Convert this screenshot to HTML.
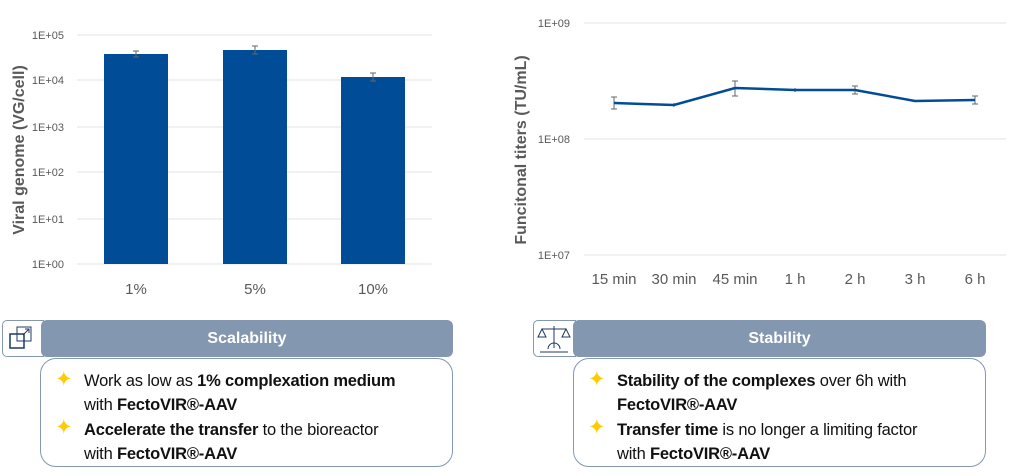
<!DOCTYPE html>
<html><head><meta charset="utf-8"><style>
body{margin:0;width:1024px;height:476px;background:#fff;position:relative;overflow:hidden;font-family:"Liberation Sans",sans-serif}
.a{position:absolute}
.hdr{background:#8497b0;color:#fff;font-weight:bold;font-size:16px;text-align:center;line-height:37px;border-radius:6px}
.ico{border:1px solid #8497b0;border-radius:5px 0 0 5px;background:#fff}
.body{border:1.5px solid #8497b0;border-radius:16px;background:#fff}
.t{font-size:16.5px;color:#111;white-space:nowrap;letter-spacing:-0.2px}
.s{color:#ffcc00;font-size:21px}
</style></head><body>
<svg class="a" style="left:0;top:0" width="1024" height="310" font-family="Liberation Sans, sans-serif">
<g stroke="#e3e3e3" stroke-width="1">
<line x1="77" x2="432" y1="35" y2="35"/><line x1="77" x2="432" y1="80" y2="80"/><line x1="77" x2="432" y1="127" y2="127"/><line x1="77" x2="432" y1="172" y2="172"/><line x1="77" x2="432" y1="219" y2="219"/><line x1="77" x2="432" y1="264" y2="264"/>
<line x1="584" x2="1006" y1="23" y2="23"/><line x1="584" x2="1006" y1="139" y2="139"/><line x1="584" x2="1006" y1="255" y2="255"/>
</g>
<g fill="#595959" font-size="11" text-anchor="end">
<text x="64" y="39">1E+05</text><text x="64" y="84">1E+04</text><text x="64" y="131">1E+03</text><text x="64" y="176">1E+02</text><text x="64" y="223">1E+01</text><text x="64" y="268">1E+00</text>
<text x="570" y="27">1E+09</text><text x="570" y="143">1E+08</text><text x="570" y="259">1E+07</text>
</g>
<g fill="#004c97">
<rect x="104" y="54" width="64" height="210"/><rect x="223" y="50" width="64" height="214"/><rect x="341" y="77" width="64" height="187"/>
</g>
<g stroke="#666" stroke-width="1">
<path d="M136 51v6M133 51h6M133 57h6M255 46v8M252 46h6M252 54h6M373 73v8M370 73h6M370 81h6"/>
<path d="M614 97v12M611 97h6M611 109h6M674 103v4M735 81v15M732 81h6M732 96h6M795 88v4M855 86v8M852 86h6M852 94h6M975 96v8M972 96h6M972 104h6"/>
</g>
<polyline fill="none" stroke="#004c97" stroke-width="2.5" points="614,103 674,105 735,88 795,90 855,90 915,101 975,100"/>
<g fill="#595959" font-size="15" text-anchor="middle">
<text x="136" y="294">1%</text><text x="255" y="294">5%</text><text x="373" y="294">10%</text>
<text x="614" y="284">15 min</text><text x="674" y="284">30 min</text><text x="735" y="284">45 min</text><text x="795" y="284">1 h</text><text x="855" y="284">2 h</text><text x="915" y="284">3 h</text><text x="975" y="284">6 h</text>
</g>
<text transform="translate(24,150) rotate(-90)" text-anchor="middle" fill="#595959" font-size="16" font-weight="bold">Viral genome (VG/cell)</text>
<text transform="translate(526,150) rotate(-90)" text-anchor="middle" fill="#595959" font-size="16" font-weight="bold">Funcitonal titers (TU/mL)</text>
</svg>

<div class="a ico" style="left:2px;top:320px;width:40px;height:35px"><svg width="40" height="35"><rect x="7" y="13" width="14" height="14" fill="none" stroke="#1f3864" stroke-width="1.5"/><rect x="14" y="6" width="14" height="14" fill="none" stroke="#1f3864" stroke-width="1"/><path d="M20 14l6-6M22 8h4v4" stroke="#1f3864" fill="none"/></svg></div>
<div class="a hdr" style="left:41px;top:320px;width:412px;height:37px">Scalability</div>
<div class="a body" style="left:40px;top:358px;width:411px;height:107px"></div>
<div class="a t" style="left:55px;top:368px;line-height:24px"><span class="s">✦</span></div>
<div class="a t" style="left:55px;top:416px;line-height:24px"><span class="s">✦</span></div>
<div class="a t" style="left:84px;top:369px;line-height:24.3px">Work as low as <b>1% complexation medium</b><br>with <b>FectoVIR®-AAV</b><br><b>Accelerate the transfer</b> to the bioreactor<br>with <b>FectoVIR®-AAV</b></div>

<div class="a ico" style="left:533px;top:320px;width:41px;height:35px"><svg width="40" height="35"><path d="M8 8h24M20 5v22M8 8l-4 8h8zM32 8l-4 8h8z" stroke="#1f3864" fill="none"/><path d="M14 28a6 6 0 0 1 12 0M6 31h28" stroke="#1f3864" fill="none"/></svg></div>
<div class="a hdr" style="left:573px;top:320px;width:413px;height:37px">Stability</div>
<div class="a body" style="left:573px;top:358px;width:411px;height:107px"></div>
<div class="a t" style="left:588px;top:368px;line-height:24px"><span class="s">✦</span></div>
<div class="a t" style="left:588px;top:416px;line-height:24px"><span class="s">✦</span></div>
<div class="a t" style="left:617px;top:369px;line-height:24.3px"><b>Stability of the complexes</b> over 6h with<br><b>FectoVIR®-AAV</b><br><b>Transfer time</b> is no longer a limiting factor<br>with <b>FectoVIR®-AAV</b></div>
</body></html>
